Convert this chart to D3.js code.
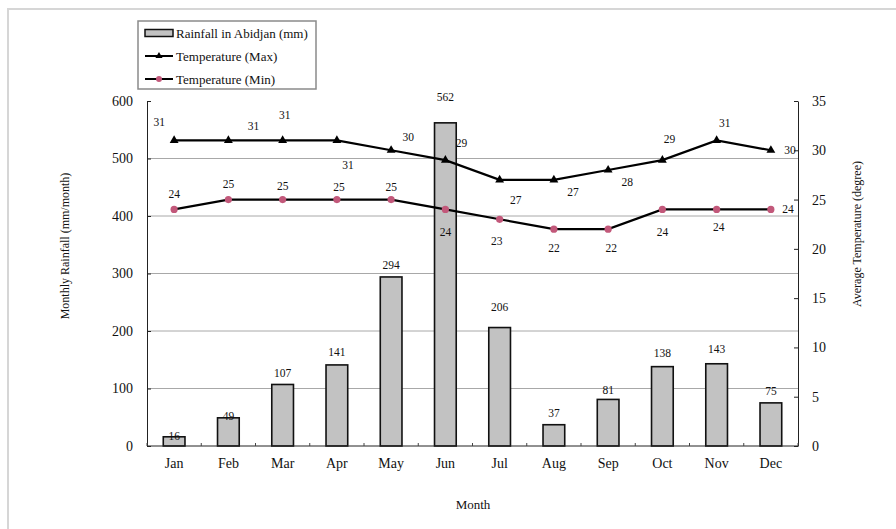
<!DOCTYPE html>
<html>
<head>
<meta charset="utf-8">
<script src="https://cdn.jsdelivr.net/npm/d3@7/dist/d3.min.js"></script>
<style>
  html, body { margin: 0; padding: 0; background: #fff; }
  svg { display: block; }
</style>
</head>
<body>
<svg id="chart" width="896" height="529" font-family="Liberation Serif"></svg>
<script>
// Monthly rainfall and temperature for Abidjan
const months = ["Jan", "Feb", "Mar", "Apr", "May", "Jun", "Jul", "Aug", "Sep", "Oct", "Nov", "Dec"];
const rainfall = [16, 49, 107, 141, 294, 562, 206, 37, 81, 138, 143, 75];
const tempMax = [31, 31, 31, 31, 30, 29, 27, 27, 28, 29, 31, 30];
const tempMin = [24, 25, 25, 25, 25, 24, 23, 22, 22, 24, 24, 24];
const rainTicks = [0, 100, 200, 300, 400, 500, 600];
const tempTicks = [0, 5, 10, 15, 20, 25, 30, 35];

// Label placement (pixel offsets from each mark)
const rainLabelDy = [-1, -2, -11, -13, -12, -26, -21, -12, -9, -14, -15, -12];
const maxLabelOff = [[-15, -18], [25, -14], [2, -25], [11, 25], [17, -13], [16, -17],
                     [16, 20], [19, 12], [19, 12], [7, -21], [8, -17], [19, 0]];
const minLabelOff = [[0, -15], [0, -16], [0, -14], [2, -13], [0, -13], [0, 23],
                     [-3, 22], [0, 19], [3, 19], [0, 23], [2, 18], [17, 0]];

const FONT = "Liberation Serif, Times New Roman, serif";
const INK = "#111";

const svg = d3.select("#chart");
const plot = { left: 147, right: 798, top: 101, bottom: 446 };

function label(sel) {
  return sel.style("font-family", FONT).attr("fill", INK);
}

// outer frame
svg.append("rect")
  .attr("x", 8).attr("y", 9).attr("width", 920).attr("height", 560)
  .attr("fill", "none").attr("stroke", "#d6d6d6").attr("stroke-width", 2);

const x = d3.scaleBand().domain(months)
  .range([plot.left, plot.right]).paddingInner(0.6).paddingOuter(0.3);
const cx = m => x(m) + x.bandwidth() / 2;
const yRain = d3.scaleLinear().domain([0, 600]).range([plot.bottom, plot.top]);
const yTemp = d3.scaleLinear().domain([0, 35]).range([plot.bottom, plot.top]);

// horizontal gridlines
svg.append("g").selectAll("line")
  .data(rainTicks.filter(t => t > 0 && t < 600))
  .join("line")
  .attr("x1", plot.left).attr("x2", plot.right)
  .attr("y1", d => yRain(d)).attr("y2", d => yRain(d))
  .attr("stroke", "#a8a8a8").attr("stroke-width", 1);

// rainfall bars
svg.append("g").selectAll("rect")
  .data(rainfall)
  .join("rect")
  .attr("x", (d, i) => x(months[i]))
  .attr("y", d => yRain(d))
  .attr("width", x.bandwidth())
  .attr("height", d => yRain(0) - yRain(d))
  .attr("fill", "#c2c2c2").attr("stroke", "#111").attr("stroke-width", 1.6);

// axes
const leftAxis = d3.axisLeft(yRain).tickValues(rainTicks).tickSizeInner(-4).tickSizeOuter(0).tickPadding(14);
const gL = svg.append("g").attr("transform", `translate(${plot.left},0)`).call(leftAxis);
const rightAxis = d3.axisRight(yTemp).tickValues(tempTicks).tickSizeInner(-4).tickSizeOuter(0).tickPadding(14);
const gR = svg.append("g").attr("transform", `translate(${plot.right},0)`).call(rightAxis);
const bottomAxis = d3.axisBottom(x).tickSize(0).tickPadding(12);
const gB = svg.append("g").attr("transform", `translate(0,${plot.bottom})`).call(bottomAxis);
gB.select(".domain").attr("d", `M${plot.left},0H${plot.right}`);
[gL, gR, gB].forEach(g => {
  g.attr("font-family", null);
  g.select(".domain").attr("stroke", "#222").attr("stroke-width", 1);
  g.selectAll(".tick line").attr("stroke", "#222");
  label(g.selectAll(".tick text")).attr("font-size", 14);
});

// category boundary ticks on the month axis
const step = x.step();
svg.append("g").selectAll("line")
  .data(d3.range(months.length + 1))
  .join("line")
  .attr("x1", i => plot.left + i * step).attr("x2", i => plot.left + i * step)
  .attr("y1", plot.bottom).attr("y2", plot.bottom - 3)
  .attr("stroke", "#444");

// temperature lines
const tempLine = d3.line().x((d, i) => cx(months[i])).y(d => yTemp(d));
svg.append("path").datum(tempMax).attr("d", tempLine)
  .attr("fill", "none").attr("stroke", "#000").attr("stroke-width", 2.2);
svg.append("path").datum(tempMin).attr("d", tempLine)
  .attr("fill", "none").attr("stroke", "#000").attr("stroke-width", 2.2);

const tri = d3.symbol().type(d3.symbolTriangle).size(34);
svg.append("g").selectAll("path")
  .data(tempMax)
  .join("path")
  .attr("d", tri)
  .attr("transform", (d, i) => `translate(${cx(months[i])},${yTemp(d)})`)
  .attr("fill", "#000");
svg.append("g").selectAll("circle")
  .data(tempMin)
  .join("circle")
  .attr("cx", (d, i) => cx(months[i])).attr("cy", d => yTemp(d))
  .attr("r", 3.6).attr("fill", "#c2587a");

// value labels
label(svg.append("g").selectAll("text")
  .data(rainfall)
  .join("text"))
  .attr("x", (d, i) => cx(months[i]))
  .attr("y", (d, i) => yRain(d) + rainLabelDy[i])
  .attr("text-anchor", "middle").attr("dominant-baseline", "central")
  .attr("font-size", 11.5)
  .text(d => d);
label(svg.append("g").selectAll("text")
  .data(tempMax)
  .join("text"))
  .attr("x", (d, i) => cx(months[i]) + maxLabelOff[i][0])
  .attr("y", (d, i) => yTemp(d) + maxLabelOff[i][1])
  .attr("text-anchor", "middle").attr("dominant-baseline", "central")
  .attr("font-size", 11.5)
  .text(d => d);
label(svg.append("g").selectAll("text")
  .data(tempMin)
  .join("text"))
  .attr("x", (d, i) => cx(months[i]) + minLabelOff[i][0])
  .attr("y", (d, i) => yTemp(d) + minLabelOff[i][1])
  .attr("text-anchor", "middle").attr("dominant-baseline", "central")
  .attr("font-size", 11.5)
  .text(d => d);

// axis titles
label(svg.append("text"))
  .attr("transform", "translate(65,246) rotate(-90)")
  .attr("text-anchor", "middle").attr("dominant-baseline", "central")
  .attr("font-size", 12).text("Monthly Rainfall (mm/month)");
label(svg.append("text"))
  .attr("transform", "translate(857,234) rotate(-90)")
  .attr("text-anchor", "middle").attr("dominant-baseline", "central")
  .attr("font-size", 12).text("Average Temperature (degree)");
label(svg.append("text"))
  .attr("x", 473).attr("y", 504)
  .attr("text-anchor", "middle").attr("dominant-baseline", "central")
  .attr("font-size", 13).text("Month");

// legend
const legend = svg.append("g");
legend.append("rect")
  .attr("x", 138).attr("y", 21).attr("width", 178).attr("height", 68)
  .attr("fill", "#fff").attr("stroke", "#8a8a8a").attr("stroke-width", 1.5);
const legendItems = ["Rainfall in Abidjan (mm)", "Temperature (Max)", "Temperature (Min)"];
const rowY = [33, 56, 79];
legend.append("rect")
  .attr("x", 145).attr("y", rowY[0] - 3.5).attr("width", 28).attr("height", 7)
  .attr("fill", "#c2c2c2").attr("stroke", "#111").attr("stroke-width", 1.5);
[1, 2].forEach(k => {
  legend.append("line")
    .attr("x1", 145).attr("x2", 173).attr("y1", rowY[k]).attr("y2", rowY[k])
    .attr("stroke", "#000").attr("stroke-width", 2);
});
legend.append("path").attr("d", d3.symbol().type(d3.symbolTriangle).size(22))
  .attr("transform", `translate(159,${rowY[1]})`).attr("fill", "#000");
legend.append("circle").attr("cx", 159).attr("cy", rowY[2]).attr("r", 3)
  .attr("fill", "#c2587a");
label(legend.selectAll("text.item")
  .data(legendItems)
  .join("text"))
  .attr("class", "item")
  .attr("x", 176).attr("y", (d, i) => rowY[i])
  .attr("dominant-baseline", "central")
  .attr("font-size", 13)
  .text(d => d);
</script>
</body>
</html>
